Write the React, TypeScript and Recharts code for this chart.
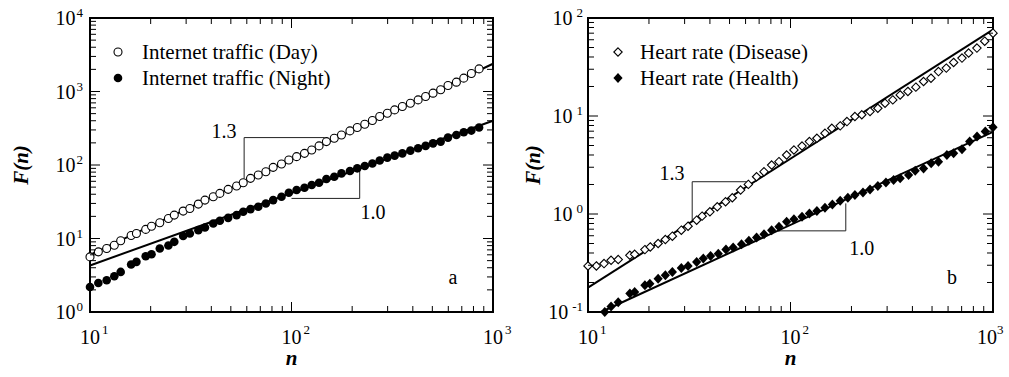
import React from "react";
import {
  ComposedChart,
  Line,
  Scatter,
  XAxis,
  YAxis,
  Legend,
  ReferenceDot,
} from "recharts";

const FONT = "'Liberation Serif', 'Times New Roman', serif";

// ---- panel a: internet traffic ----
const trafficN = [
  10.0, 11.0, 12.1, 13.2, 14.2, 16.0, 17.0, 18.9, 20.2, 22.2, 24.5, 26.2, 29.0,
  31.3, 34.5, 37.2, 40.9, 44.1, 48.5, 53.4, 57.6, 62.6, 68.4, 74.6, 81.1, 89.2,
  97, 106, 116, 126, 137, 149, 163, 177, 195, 212, 231, 252, 274, 299, 325, 355,
  389, 425, 463, 504, 550, 598, 658, 716, 781, 853,
];
const dayF = [
  5.62, 6.58, 7.3, 8.1, 9.3, 11.0, 11.7, 13.3, 14.7, 16.4, 18.7, 20.8, 23.6,
  25.6, 29.4, 33.3, 37.0, 41.1, 46.6, 51.7, 57.4, 65.8, 73.1, 81.1, 92.9, 103,
  117, 130, 144, 160, 182, 208, 231, 256, 291, 323, 359, 403, 456, 507, 562, 624,
  693, 769, 855, 949, 1054, 1208, 1340, 1520, 1760, 2030,
];
const nightF = [
  2.19, 2.48, 2.7, 3.07, 3.51, 4.42, 4.81, 5.74, 6.11, 7.31, 8.03, 9.01, 10.8,
  11.7, 13.0, 14.1, 16.0, 17.4, 19.1, 20.8, 23.1, 25.1, 27.0, 30.0, 33.3, 37.0,
  42.0, 45.6, 49.1, 53.4, 57.4, 64.4, 69.3, 76.9, 82.8, 90.1, 96.9, 105, 115,
  126, 134, 144, 157, 169, 182, 197, 208, 236, 256, 279, 294, 323,
];
const dayFitN = [10, 1000];
const dayFitF = [5.99, 2384];
const nightFitN = [10, 1000];
const nightFitF = [4.3, 400];
const slope13aN = [58.2, 58.2, 146];
const slope13aF = [65.8, 236, 236];
const slope10aN = [100, 218, 218];
const slope10aF = [35.1, 35.1, 90.1];

// ---- panel b: heart rate ----
const diseaseN = [
  10.0, 11.0, 12.0, 13.0, 14.1, 16.1, 17.0, 19.1, 20.3, 22.2, 24.1, 26.1, 28.9,
  31.2, 34.4, 36.6, 40.0, 43.5, 47.8, 51.6, 56.7, 61.9, 68.0, 74.0, 80.7, 87.7,
  95.7, 104, 114, 124, 135, 148, 160, 176, 190, 208, 225, 247, 270, 293, 320, 348,
  380, 416, 454, 494, 538, 588, 639, 703, 758, 833, 910, 1000,
];
const diseaseF = [
  0.295, 0.295, 0.312, 0.337, 0.343, 0.379, 0.388, 0.433, 0.461, 0.5, 0.549,
  0.594, 0.684, 0.751, 0.865, 0.951, 1.053, 1.185, 1.334, 1.465, 1.755, 2.005,
  2.4, 2.7, 3.16, 3.42, 4.0, 4.5, 4.94, 5.48, 5.93, 6.67, 7.5, 7.93, 8.77, 9.87,
  10.3, 11.1, 12.0, 13.5, 14.6, 16.4, 17.8, 19.7, 22.5, 24.3, 28.4, 30.8, 35.2,
  39.0, 43.9, 49.3, 58, 70,
];
const healthN = [
  12.1, 13.0, 14.1, 16.1, 17.0, 19.1, 20.2, 22.2, 24.1, 26.1, 28.9, 31.2, 34.4,
  37.1, 40.3, 44.0, 48.0, 52.1, 57.3, 62.3, 68.0, 74.0, 80.7, 87.7, 95.7, 104,
  114, 124, 135, 148, 161, 176, 192, 208, 228, 247, 270, 296, 323, 348, 383, 413,
  454, 495, 538, 592, 639, 703, 767, 834, 916, 1000,
];
const healthF = [
  0.1, 0.114, 0.126, 0.154, 0.16, 0.187, 0.194, 0.219, 0.237, 0.256, 0.282,
  0.295, 0.324, 0.351, 0.373, 0.394, 0.433, 0.455, 0.492, 0.532, 0.575, 0.622,
  0.684, 0.74, 0.832, 0.885, 0.935, 1.013, 1.07, 1.157, 1.252, 1.365, 1.465,
  1.56, 1.661, 1.782, 1.927, 2.1, 2.22, 2.31, 2.5, 2.77, 2.92, 3.29, 3.42, 4.0,
  4.16, 4.57, 5.48, 6.17, 6.94, 7.68,
];
const diseaseFitN = [10, 1000];
const diseaseFitF = [0.177, 76];
const healthFitN = [11.6, 1000];
const healthFitF = [0.1, 6.9];
const slope13bN = [32.7, 32.7, 60.7];
const slope13bF = [0.832, 2.135, 2.135];
const slope10bN = [87.1, 187.5, 187.5];
const slope10bF = [0.673, 0.673, 1.283];

// ---- axes ----
const xMajor = [10, 100, 1000];
const xExp = ["1", "2", "3"];
const yMajorA = [1, 10, 100, 1000, 10000];
const yExpA = ["0", "1", "2", "3", "4"];
const yMajorB = [0.1, 1, 10, 100];
const yExpB = ["-1", "0", "1", "2"];

// decade ticks incl. minor 2..9
function logTicks(majors: number[]) {
  const out: number[] = [];
  majors.forEach((d, i) => {
    out.push(d);
    if (i < majors.length - 1)
      for (let k = 2; k <= 9; k++) out.push(Number((k * d).toPrecision(3)));
  });
  return out;
}

const pts = (n: number[], f: number[]) => n.map((v, i) => ({ n: v, f: f[i] }));

function AxisTick(props: any) {
  const {
    x,
    y,
    payload,
    side,
    majors,
    exps,
    supGap = 0,
    labelGap = 7,
    endShift = 0,
  } = props;
  const i = majors.indexOf(payload.value);
  const len = i >= 0 ? 10 : 6;
  let tick;
  if (side === "bottom") tick = <line x1={x} y1={y} x2={x} y2={y - len} />;
  else if (side === "top") tick = <line x1={x} y1={y} x2={x} y2={y + len} />;
  else if (side === "left") tick = <line x1={x} y1={y} x2={x + len} y2={y} />;
  else tick = <line x1={x} y1={y} x2={x - len} y2={y} />;

  let label = null;
  if (i >= 0 && side === "bottom") {
    const last = i === majors.length - 1;
    label = (
      <text
        x={x - 10 + (last ? endShift : 0)}
        y={y + 32}
        fontFamily={FONT}
        fontSize={20}
        fill="#000"
        stroke="none"
      >
        10
        <tspan dx={last && endShift ? 0 : supGap} dy={-10} fontSize={13}>
          {exps[i]}
        </tspan>
      </text>
    );
  }
  if (i >= 0 && side === "left") {
    label = (
      <text
        x={x - labelGap}
        y={y + 7}
        textAnchor="end"
        fontFamily={FONT}
        fontSize={20}
        fill="#000"
        stroke="none"
      >
        10
        <tspan dx={supGap} dy={-8} fontSize={13}>
          {exps[i]}
        </tspan>
      </text>
    );
  }
  return (
    <g stroke="#000" strokeWidth={1}>
      {tick}
      {label}
    </g>
  );
}

function YTitle(props: any) {
  const { viewBox, dx } = props;
  const x = viewBox.x + viewBox.width - dx;
  const y = viewBox.y + viewBox.height / 2;
  return (
    <text
      x={x}
      y={y}
      transform={`rotate(-90, ${x}, ${y})`}
      textAnchor="middle"
      dominantBaseline="central"
      fontFamily={FONT}
      fontSize={21}
      fontWeight="bold"
      fontStyle="italic"
      fill="#000"
    >
      F(n)
    </text>
  );
}

function XTitle(props: any) {
  const { viewBox } = props;
  return (
    <text
      x={viewBox.x + viewBox.width / 2}
      y={viewBox.y + 53}
      textAnchor="middle"
      fontFamily={FONT}
      fontSize={21}
      fontWeight="bold"
      fontStyle="italic"
      fill="#000"
    >
      n
    </text>
  );
}

function Note(props: any) {
  const { viewBox, text } = props;
  return (
    <text
      x={viewBox.x + viewBox.width / 2}
      y={viewBox.y + viewBox.height / 2}
      textAnchor="middle"
      dominantBaseline="central"
      fontFamily={FONT}
      fontSize={20}
      fill="#000"
    >
      {text}
    </text>
  );
}

// marker shapes
function marker(kind: string, cx: number, cy: number) {
  if (kind === "openCircle")
    return <circle cx={cx} cy={cy} r={4} fill="#fff" stroke="#000" strokeWidth={1.1} />;
  if (kind === "dot") return <circle cx={cx} cy={cy} r={4.3} fill="#000" />;
  const h = 4.2;
  const d = `M${cx},${cy - h}L${cx + h},${cy}L${cx},${cy + h}L${cx - h},${cy}Z`;
  if (kind === "openDiamond")
    return <path d={d} fill="#fff" stroke="#000" strokeWidth={1.1} />;
  return <path d={`M${cx},${cy - 5}L${cx + 4.6},${cy}L${cx},${cy + 5}L${cx - 4.6},${cy}Z`} fill="#000" />;
}

function Key(props: any) {
  const { items, gap } = props;
  return (
    <div style={{ fontFamily: FONT, fontSize: 21, color: "#000" }}>
      {items.map((it: any) => (
        <div key={it.label} style={{ display: "flex", alignItems: "center", height: 26 }}>
          <svg width={16} height={16}>
            {marker(it.kind, 8, 8)}
          </svg>
          <span style={{ marginLeft: gap, whiteSpace: "nowrap" }}>{it.label}</span>
        </div>
      ))}
    </div>
  );
}

type PanelProps = {
  width: number;
  margin: any;
  yDomain: number[];
  yMajor: number[];
  yExp: string[];
  ySupGap: number;
  yLabelGap: number;
  titleDx: number;
  endShift: number;
  series: { data: any[]; kind: string; label: string }[];
  fits: any[][];
  slopes: any[][];
  notes: { n: number; f: number; text: string }[];
  keyGap: number;
};

function Panel(p: PanelProps) {
  const xTicks = logTicks(xMajor);
  const yTicks = logTicks(p.yMajor);
  const frame = { stroke: "#000", strokeWidth: 2, strokeLinecap: "square" };
  return (
    <ComposedChart
      width={p.width}
      height={377}
      margin={p.margin}
      style={{ overflow: "visible" }}
    >
      <XAxis
        dataKey="n"
        type="number"
        scale="log"
        domain={[10, 1000]}
        ticks={xTicks}
        interval={0}
        height={1}
        tickSize={0}
        tickMargin={0}
        tickLine={false}
        axisLine={frame}
        tick={
          <AxisTick
            side="bottom"
            majors={xMajor}
            exps={xExp}
            supGap={2}
            endShift={p.endShift}
          />
        }
        label={<XTitle />}
      />
      <XAxis
        xAxisId="top"
        orientation="top"
        dataKey="n"
        type="number"
        scale="log"
        domain={[10, 1000]}
        ticks={xTicks}
        interval={0}
        height={1}
        tickSize={0}
        tickMargin={0}
        tickLine={false}
        axisLine={frame}
        tick={<AxisTick side="top" majors={xMajor} exps={xExp} />}
      />
      <YAxis
        dataKey="f"
        type="number"
        scale="log"
        domain={p.yDomain}
        ticks={yTicks}
        interval={0}
        width={1}
        tickSize={0}
        tickMargin={0}
        tickLine={false}
        axisLine={frame}
        tick={
          <AxisTick
            side="left"
            majors={p.yMajor}
            exps={p.yExp}
            supGap={p.ySupGap}
            labelGap={p.yLabelGap}
          />
        }
        label={<YTitle dx={p.titleDx} />}
      />
      <YAxis
        yAxisId="right"
        orientation="right"
        dataKey="f"
        type="number"
        scale="log"
        domain={p.yDomain}
        ticks={yTicks}
        interval={0}
        width={1}
        tickSize={0}
        tickMargin={0}
        tickLine={false}
        axisLine={frame}
        tick={<AxisTick side="right" majors={p.yMajor} exps={p.yExp} />}
      />

      {/* slope guides */}
      {p.slopes.map((d, i) => (
        <Line
          key={"s" + i}
          xAxisId="top"
          yAxisId="right"
          data={d}
          dataKey="f"
          type="linear"
          stroke="#222"
          strokeWidth={1}
          dot={false}
          isAnimationActive={false}
        />
      ))}

      {/* power-law fits */}
      {p.fits.map((d, i) => (
        <Line
          key={"f" + i}
          data={d}
          dataKey="f"
          type="linear"
          stroke="#000"
          strokeWidth={2}
          dot={false}
          isAnimationActive={false}
        />
      ))}

      {p.series.map((s) => (
        <Scatter
          key={s.label}
          name={s.label}
          data={s.data}
          dataKey="f"
          isAnimationActive={false}
          shape={(q: any) => marker(s.kind, q.cx, q.cy)}
        />
      ))}

      {p.notes.map((t) => (
        <ReferenceDot
          key={t.text}
          x={t.n}
          y={t.f}
          r={0}
          fill="none"
          stroke="none"
          label={<Note text={t.text} />}
        />
      ))}

      <Legend
        layout="vertical"
        align="center"
        verticalAlign="middle"
        wrapperStyle={{ top: 39, left: 110, width: "auto" }}
        content={<Key items={p.series} gap={p.keyGap} />}
      />
    </ComposedChart>
  );
}

export default function App() {
  return (
    <div
      style={{
        position: "absolute",
        left: 0,
        top: 0,
        width: 1009,
        height: 377,
        background: "#fff",
      }}
    >
      <div style={{ position: "absolute", left: 0, top: 0 }}>
        <Panel
          width={520}
          margin={{ top: 17, right: 26, bottom: 64, left: 89 }}
          yDomain={[1, 10000]}
          yMajor={yMajorA}
          yExp={yExpA}
          ySupGap={1}
          yLabelGap={7}
          titleDx={69}
          endShift={0}
          series={[
            { data: pts(trafficN, dayF), kind: "openCircle", label: "Internet traffic (Day)" },
            { data: pts(trafficN, nightF), kind: "dot", label: "Internet traffic (Night)" },
          ]}
          fits={[pts(dayFitN, dayFitF), pts(nightFitN, nightFitF)]}
          slopes={[pts(slope13aN, slope13aF), pts(slope10aN, slope10aF)]}
          notes={[
            { n: 46.2, f: 290, text: "1.3" },
            { n: 254, f: 22.9, text: "1.0" },
            { n: 632, f: 3.0, text: "a" },
          ]}
          keyGap={16}
        />
      </div>
      <div style={{ position: "absolute", left: 500, top: 0 }}>
        <Panel
          width={509}
          margin={{ top: 17, right: 15, bottom: 64, left: 87 }}
          yDomain={[0.1, 100]}
          yMajor={yMajorB}
          yExp={yExpB}
          ySupGap={4}
          yLabelGap={5}
          titleDx={55}
          endShift={-6}
          series={[
            { data: pts(diseaseN, diseaseF), kind: "openDiamond", label: "Heart rate (Disease)" },
            { data: pts(healthN, healthF), kind: "diamond", label: "Heart rate (Health)" },
          ]}
          fits={[pts(diseaseFitN, diseaseFitF), pts(healthFitN, healthFitF)]}
          slopes={[pts(slope13bN, slope13bF), pts(slope10bN, slope10bF)]}
          notes={[
            { n: 26.0, f: 2.62, text: "1.3" },
            { n: 225, f: 0.45, text: "1.0" },
            { n: 628, f: 0.228, text: "b" },
          ]}
          keyGap={14}
        />
      </div>
    </div>
  );
}
